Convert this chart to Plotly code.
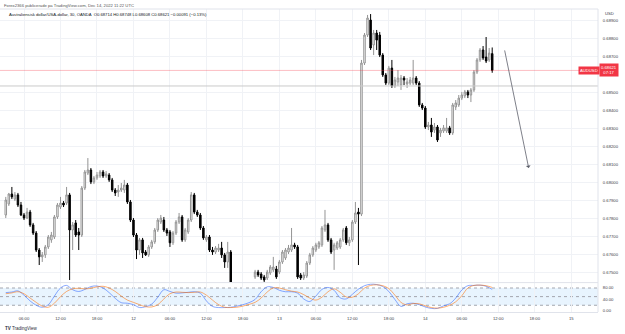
import plotly.graph_objects as go

# ---------------- data (30-minute AUD/USD bars, OANDA) ----------------
# bar number: 0 = Fri Dec 9 06:00 UTC, one step = one 30-min bar (weekend collapsed)
bars = list(range(-6, 155))

opens = [
    0.67821, 0.67882, 0.67937, 0.67909, 0.67932, 0.67876, 0.67821, 0.67804, 0.67837, 0.67766,
    0.67721, 0.67627, 0.67589, 0.67600, 0.67644, 0.67683, 0.67699, 0.67810, 0.67865, 0.67887,
    0.67887, 0.67932, 0.67738, 0.67777, 0.67727, 0.67710, 0.67970, 0.68053, 0.68070, 0.68004,
    0.68026, 0.68037, 0.68059, 0.68037, 0.68042, 0.68015, 0.67959, 0.67948, 0.67959, 0.67959,
    0.67987, 0.67893, 0.67793, 0.67710, 0.67627, 0.67683, 0.67616, 0.67600, 0.67644, 0.67672,
    0.67738, 0.67782, 0.67793, 0.67738, 0.67727, 0.67667, 0.67721, 0.67782, 0.67810, 0.67683,
    0.67727, 0.67793, 0.67932, 0.67837, 0.67821, 0.67749, 0.67683, 0.67699, 0.67627, 0.67616,
    0.67627, 0.67638, 0.67600, 0.67561, 0.67616, 0.67434, 0.67406, 0.67423, 0.67389, 0.67411,
    0.67428, 0.67406, 0.67478, 0.67505, 0.67494, 0.67478, 0.67472, 0.67500, 0.67517, 0.67522,
    0.67505, 0.67561, 0.67583, 0.67616, 0.67627, 0.67655, 0.67644, 0.67489, 0.67472, 0.67483,
    0.67555, 0.67600, 0.67627, 0.67644, 0.67655, 0.67738, 0.67766, 0.67683, 0.67627, 0.67638,
    0.67644, 0.67683, 0.67749, 0.67667, 0.67683, 0.67782, 0.67837, 0.67826, 0.68662, 0.68817,
    0.68900, 0.68762, 0.68828, 0.68817, 0.68706, 0.68596, 0.68551, 0.68634, 0.68535, 0.68557,
    0.68540, 0.68579, 0.68546, 0.68551, 0.68551, 0.68579, 0.68551, 0.68430, 0.68413, 0.68308,
    0.68319, 0.68291, 0.68308, 0.68275, 0.68286, 0.68286, 0.68303, 0.68275, 0.68419, 0.68430,
    0.68468, 0.68480, 0.68502, 0.68485, 0.68513, 0.68612, 0.68679, 0.68734, 0.68695, 0.68679,
    0.68714,
]
highs = [
    0.67921, 0.67943, 0.67976, 0.67948, 0.67943, 0.67893, 0.67832, 0.67860, 0.67849, 0.67777,
    0.67732, 0.67638, 0.67616, 0.67655, 0.67710, 0.67727, 0.67821, 0.67887, 0.67921, 0.67898,
    0.67976, 0.67943, 0.67782, 0.67793, 0.67749, 0.67981, 0.68070, 0.68136, 0.68081, 0.68037,
    0.68059, 0.68070, 0.68070, 0.68064, 0.68053, 0.68026, 0.67970, 0.67987, 0.67998, 0.68015,
    0.67998, 0.67904, 0.67804, 0.67721, 0.67694, 0.67694, 0.67627, 0.67655, 0.67683, 0.67749,
    0.67804, 0.67821, 0.67810, 0.67749, 0.67738, 0.67732, 0.67793, 0.67832, 0.67821, 0.67749,
    0.67804, 0.67948, 0.67943, 0.67849, 0.67832, 0.67760, 0.67710, 0.67710, 0.67644, 0.67649,
    0.67661, 0.67672, 0.67611, 0.67672, 0.67627, 0.67445, 0.67434, 0.67434, 0.67423, 0.67439,
    0.67439, 0.67445, 0.67517, 0.67517, 0.67505, 0.67489, 0.67517, 0.67544, 0.67589, 0.67539,
    0.67572, 0.67627, 0.67638, 0.67655, 0.67749, 0.67667, 0.67655, 0.67500, 0.67505, 0.67566,
    0.67611, 0.67649, 0.67667, 0.67677, 0.67760, 0.67849, 0.67777, 0.67694, 0.67667, 0.67677,
    0.67694, 0.67749, 0.67760, 0.67699, 0.67793, 0.67893, 0.67860, 0.68679, 0.68828, 0.68928,
    0.68933, 0.68845, 0.68845, 0.68834, 0.68717, 0.68607, 0.68646, 0.68679, 0.68585, 0.68623,
    0.68596, 0.68590, 0.68579, 0.68585, 0.68679, 0.68590, 0.68562, 0.68441, 0.68424, 0.68336,
    0.68358, 0.68330, 0.68319, 0.68303, 0.68319, 0.68358, 0.68314, 0.68441, 0.68457, 0.68485,
    0.68502, 0.68513, 0.68513, 0.68524, 0.68623, 0.68690, 0.68745, 0.68756, 0.68806, 0.68745,
    0.68748,
]
lows = [
    0.67804, 0.67871, 0.67909, 0.67898, 0.67865, 0.67815, 0.67793, 0.67799, 0.67755, 0.67710,
    0.67616, 0.67544, 0.67561, 0.67583, 0.67633, 0.67667, 0.67688, 0.67799, 0.67854, 0.67865,
    0.67876, 0.67461, 0.67627, 0.67699, 0.67627, 0.67699, 0.67959, 0.68042, 0.67992, 0.67992,
    0.68015, 0.68026, 0.68026, 0.68026, 0.68004, 0.67948, 0.67926, 0.67921, 0.67948, 0.67943,
    0.67882, 0.67782, 0.67699, 0.67577, 0.67600, 0.67583, 0.67594, 0.67589, 0.67633, 0.67661,
    0.67727, 0.67771, 0.67727, 0.67705, 0.67644, 0.67655, 0.67710, 0.67771, 0.67672, 0.67672,
    0.67716, 0.67782, 0.67826, 0.67810, 0.67738, 0.67683, 0.67672, 0.67616, 0.67600, 0.67605,
    0.67616, 0.67583, 0.67528, 0.67528, 0.67423, 0.67395, 0.67395, 0.67378, 0.67378, 0.67406,
    0.67395, 0.67400, 0.67467, 0.67478, 0.67461, 0.67450, 0.67461, 0.67489, 0.67505, 0.67467,
    0.67494, 0.67550, 0.67572, 0.67605, 0.67616, 0.67633, 0.67467, 0.67461, 0.67461, 0.67472,
    0.67544, 0.67589, 0.67616, 0.67633, 0.67644, 0.67727, 0.67672, 0.67605, 0.67517, 0.67627,
    0.67633, 0.67672, 0.67655, 0.67649, 0.67672, 0.67771, 0.67544, 0.67815, 0.68651, 0.68806,
    0.68734, 0.68706, 0.68734, 0.68695, 0.68585, 0.68540, 0.68540, 0.68524, 0.68524, 0.68535,
    0.68513, 0.68540, 0.68524, 0.68540, 0.68540, 0.68540, 0.68419, 0.68402, 0.68297, 0.68291,
    0.68253, 0.68275, 0.68225, 0.68253, 0.68275, 0.68275, 0.68264, 0.68264, 0.68402, 0.68419,
    0.68457, 0.68468, 0.68468, 0.68446, 0.68502, 0.68601, 0.68668, 0.68679, 0.68662, 0.68668,
    0.68608,
]
closes = [
    0.67904, 0.67937, 0.67921, 0.67932, 0.67876, 0.67821, 0.67804, 0.67837, 0.67766, 0.67721,
    0.67627, 0.67589, 0.67600, 0.67644, 0.67699, 0.67710, 0.67810, 0.67876, 0.67887, 0.67876,
    0.67932, 0.67738, 0.67766, 0.67710, 0.67710, 0.67970, 0.68059, 0.68070, 0.68004, 0.68026,
    0.68042, 0.68059, 0.68037, 0.68048, 0.68015, 0.67959, 0.67943, 0.67959, 0.67970, 0.67987,
    0.67893, 0.67793, 0.67710, 0.67627, 0.67683, 0.67611, 0.67600, 0.67644, 0.67672, 0.67738,
    0.67793, 0.67804, 0.67738, 0.67721, 0.67667, 0.67721, 0.67782, 0.67810, 0.67683, 0.67738,
    0.67793, 0.67932, 0.67837, 0.67821, 0.67749, 0.67694, 0.67699, 0.67627, 0.67616, 0.67638,
    0.67638, 0.67600, 0.67561, 0.67616, 0.67434, 0.67406, 0.67423, 0.67389, 0.67411, 0.67428,
    0.67406, 0.67439, 0.67505, 0.67489, 0.67472, 0.67461, 0.67505, 0.67533, 0.67533, 0.67478,
    0.67561, 0.67616, 0.67627, 0.67638, 0.67655, 0.67644, 0.67478, 0.67472, 0.67489, 0.67555,
    0.67600, 0.67638, 0.67655, 0.67667, 0.67749, 0.67766, 0.67683, 0.67616, 0.67655, 0.67667,
    0.67683, 0.67738, 0.67667, 0.67683, 0.67782, 0.67832, 0.67826, 0.68662, 0.68817, 0.68911,
    0.68745, 0.68828, 0.68789, 0.68706, 0.68596, 0.68551, 0.68634, 0.68535, 0.68568, 0.68579,
    0.68579, 0.68568, 0.68557, 0.68568, 0.68579, 0.68551, 0.68430, 0.68413, 0.68308, 0.68319,
    0.68280, 0.68308, 0.68236, 0.68291, 0.68303, 0.68303, 0.68275, 0.68430, 0.68441, 0.68468,
    0.68485, 0.68502, 0.68485, 0.68513, 0.68612, 0.68679, 0.68734, 0.68690, 0.68673, 0.68717,
    0.68621,
]
assert len(bars) == len(opens) == len(highs) == len(lows) == len(closes)

# Stochastic RSI (K blue, D orange), read at every second bar
stoch_bars = [-6, -4, -2, 0, 2, 4, 6, 8, 10, 12, 14, 16, 18, 20, 22, 24, 26, 28, 30, 32,
              34, 36, 38, 40, 42, 44, 46, 48, 50, 52, 54, 56, 58, 60, 62, 64, 66, 68, 70, 72,
              74, 76, 78, 80, 82, 84, 86, 88, 90, 92, 94, 96, 98, 100, 102, 104, 106, 108, 110, 112,
              114, 116, 118, 120, 122, 124, 126, 128, 130, 132, 134, 136, 138, 140, 142, 144, 146, 148, 150, 152,
              154]
stoch_k = [64, 66, 70, 55, 35, 20, 13, 22, 52, 80, 89, 74, 68, 75, 85, 87, 80, 64, 44, 29,
           27, 22, 12, 15, 24, 48, 74, 68, 62, 63, 65, 67, 62, 35, 16, 12, 12, 13, 17, 22,
           29, 40, 67, 84, 82, 72, 67, 67, 62, 42, 33, 52, 75, 82, 72, 46, 42, 58, 76, 88,
           93, 92, 85, 68, 40, 16, 25, 27, 22, 14, 9, 9, 18, 25, 45, 73, 88, 89, 90, 86,
           75]
stoch_d = [60, 63, 67, 60, 45, 30, 17, 13, 27, 50, 68, 77, 79, 77, 79, 84, 86, 80, 68, 52,
           38, 30, 22, 15, 14, 22, 42, 60, 66, 65, 64, 65, 66, 55, 38, 22, 13, 12, 13, 17,
           23, 30, 45, 66, 80, 80, 74, 69, 66, 57, 45, 38, 48, 67, 77, 65, 49, 48, 60, 80,
           89, 91, 88, 78, 55, 30, 21, 26, 25, 18, 12, 10, 13, 20, 32, 53, 80, 89, 90, 88,
           82]

# time-axis labels
tick_bars = [0, 12, 24, 36, 48, 60, 72, 84, 96, 108, 120, 132, 144, 156, 168, 180]
tick_text = ["06:00", "12:00", "18:00", "12", "06:00", "12:00", "18:00", "13",
             "06:00", "12:00", "18:00", "14", "06:00", "12:00", "18:00", "15"]
price_ticks = [0.675, 0.676, 0.677, 0.678, 0.679, 0.680, 0.681, 0.682, 0.683,
               0.684, 0.685, 0.687, 0.688, 0.689]

last_price = 0.68621
level_line = 0.68535
# user-drawn arrow (bar, price)
arrow_start = (158, 0.6874)
arrow_end = (166, 0.68081)

# ---------------- figure ----------------
W, H = 625, 334
ML, MR, MT, MB = 0, 27, 9, 22
plot_h = H - MT - MB
main_dom = [(312 - 282) / plot_h, 1.0]
ind_dom = [0.0, (312 - 283) / plot_h]

FONT = "Liberation Sans, Arial, sans-serif"
TXT = "#3b3e47"
GRID = "#f0f2f6"

fig = go.Figure()
fig.add_trace(go.Candlestick(
    x=bars, open=opens, high=highs, low=lows, close=closes,
    increasing=dict(line=dict(color="#949494", width=1), fillcolor="#ffffff"),
    decreasing=dict(line=dict(color="#000000", width=1), fillcolor="#000000"),
    whiskerwidth=0, xaxis="x", yaxis="y", showlegend=False, hoverinfo="skip",
))
fig.add_trace(go.Scatter(x=stoch_bars, y=stoch_k, mode="lines", yaxis="y2", xaxis="x",
                         line=dict(color="rgba(41,98,255,0.55)", width=1, shape="spline"),
                         showlegend=False, hoverinfo="skip"))
fig.add_trace(go.Scatter(x=stoch_bars, y=stoch_d, mode="lines", yaxis="y2", xaxis="x",
                         line=dict(color="rgba(255,109,0,0.55)", width=1, shape="spline"),
                         showlegend=False, hoverinfo="skip"))

shapes = [
    dict(type="rect", xref="paper", x0=0, x1=1, yref="y2", y0=20, y1=80,
         fillcolor="rgba(33,150,243,0.10)", line=dict(width=0), layer="below"),
]
for lv in (20, 50, 80):
    shapes.append(dict(type="line", xref="paper", x0=0, x1=1, yref="y2", y0=lv, y1=lv,
                       line=dict(color="#a3a6af", width=1, dash="dot"), layer="below"))
shapes += [
    dict(type="line", xref="paper", x0=0, x1=1, yref="y", y0=last_price, y1=last_price,
         line=dict(color="rgba(242,54,69,0.32)", width=1)),
    dict(type="line", xref="paper", x0=0, x1=1, yref="y", y0=level_line, y1=level_line,
         line=dict(color="#cacaca", width=1)),
    # pane separator and frame
    dict(type="line", xref="paper", x0=0, x1=1, yref="paper", y0=main_dom[0] - 0.002, y1=main_dom[0] - 0.002,
         line=dict(color="#e0e3eb", width=1)),
    dict(type="line", xref="paper", x0=0, x1=1, yref="paper", y0=1, y1=1,
         line=dict(color="#e0e3eb", width=1)),
    dict(type="line", xref="paper", x0=1, x1=1, yref="paper", y0=0, y1=1,
         line=dict(color="#e0e3eb", width=1)),
]

def px_x(p):
    return p / (W - ML - MR)

def px_y(p):
    return 1 - (p - MT) / plot_h

annotations = [
    dict(text="Forex2366 publicerade på TradingView.com, Dec 14, 2022 11:22 UTC",
         xref="paper", yref="paper", x=px_x(2), y=px_y(5), xanchor="left", yanchor="middle",
         showarrow=False, font=dict(size=4.2, color="#555", family=FONT)),
    dict(text="Australiensisk dollar/USA-dollar, 30, OANDA  O0.68714 H0.68748 L0.68608 C0.68621 −0.00091 (−0.13%)",
         xref="paper", yref="paper", x=px_x(7), y=px_y(14.5), xanchor="left", yanchor="middle",
         showarrow=False, font=dict(size=4.2, color="#131722", family=FONT)),
    dict(text="USD", xref="paper", yref="paper", x=px_x(603), y=px_y(14), xanchor="left",
         yanchor="middle", showarrow=False, font=dict(size=4.2, color=TXT, family=FONT)),
    dict(text="AUDUSD", xref="paper", yref="y", x=px_x(589), y=last_price, xanchor="center",
         yanchor="middle", showarrow=False, bgcolor="#f23645", borderpad=1,
         font=dict(size=4.2, color="white", family=FONT)),
    dict(text="0.68621<br>07:17", xref="paper", yref="y", x=px_x(609), y=last_price,
         xanchor="center", yanchor="middle", showarrow=False, bgcolor="#f23645", borderpad=1,
         font=dict(size=4.2, color="white", family=FONT)),
    dict(text="<b>TV</b> TradingView", xref="paper", yref="paper", x=px_x(3), y=px_y(328),
         xanchor="left", yanchor="middle", showarrow=False,
         font=dict(size=4.5, color="#2a2e39", family=FONT)),
    dict(x=arrow_end[0], y=arrow_end[1], ax=arrow_start[0], ay=arrow_start[1],
         xref="x", yref="y", axref="x", ayref="y", text="", showarrow=True,
         arrowhead=1, arrowsize=1, arrowwidth=0.8, arrowcolor="#5d606b"),
]

fig.update_layout(
    width=W, height=H,
    margin=dict(l=ML, r=MR, t=MT, b=MB),
    paper_bgcolor="white", plot_bgcolor="white",
    font=dict(family=FONT, size=4.2, color=TXT),
    shapes=shapes, annotations=annotations,
    xaxis=dict(range=[-7.9, 188.8], tickvals=tick_bars, ticktext=tick_text,
               showgrid=True, gridcolor=GRID, gridwidth=1, zeroline=False,
               anchor="y2", rangeslider=dict(visible=False), showline=True,
               linecolor="#e0e3eb", ticks="outside", ticklen=2, tickcolor="rgba(0,0,0,0)",
               tickfont=dict(size=4.2, color=TXT)),
    yaxis=dict(domain=main_dom, range=[0.67450, 0.68961], side="right", anchor="x",
               tickvals=price_ticks, tickformat=".5f", showgrid=True, gridcolor=GRID,
               zeroline=False, ticks="outside", ticklen=3, tickcolor="rgba(0,0,0,0)",
               tickfont=dict(size=4.2, color=TXT)),
    yaxis2=dict(domain=ind_dom, range=[-3.5, 97.4], side="right", anchor="x",
                tickvals=[0, 40, 80], ticktext=["0.00", "40.00", "80.00"], showgrid=False,
                zeroline=False, ticks="outside", ticklen=3, tickcolor="rgba(0,0,0,0)",
                tickfont=dict(size=4.2, color=TXT)),
)

fig.write_html("out.html")
